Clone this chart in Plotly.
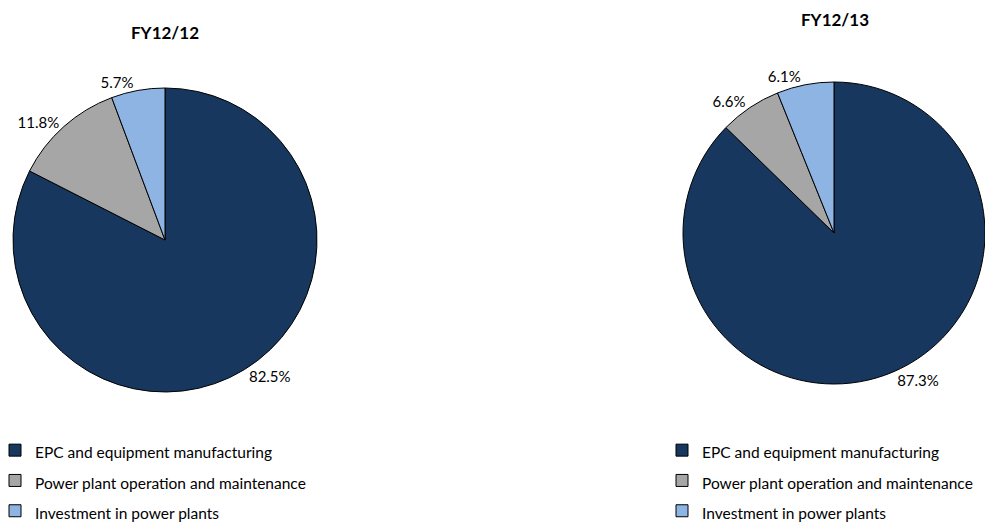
import plotly.graph_objects as go

W, H = 985, 525

categories = ["EPC and equipment manufacturing",
              "Power plant operation and maintenance",
              "Investment in power plants"]
fy1212_values = [82.5, 11.8, 5.7]
fy1213_values = [87.3, 6.6, 6.1]
titles = ["FY12/12", "FY12/13"]
colors = ["#17375E", "#A6A6A6", "#8DB4E2"]

FONT = "Lato, Carlito, Calibri, sans-serif"

def px_dom_x(a, b):
    return [a / W, b / W]

def px_dom_y(top, bottom):
    return [(H - bottom) / H, (H - top) / H]

# distinct (but identically rendered) label markup so each pie keeps its own legend
labels_left = [f'<span style="font-size:15.5px">{c}</span>' for c in categories]
labels_right = [f'<span style="font-size:15.5px;">{c}</span>' for c in categories]

fig = go.Figure()
fig.add_trace(go.Pie(
    labels=labels_left, values=fy1212_values, sort=False,
    direction="clockwise", rotation=0,
    marker=dict(colors=colors, line=dict(color="black", width=1)),
    textinfo="text", text=[f"{v:.1f}%" for v in fy1212_values],
    textposition="outside", textfont=dict(size=15, color="black", family=FONT),
    domain=dict(x=px_dom_x(13, 317), y=px_dom_y(88, 392)),
    legend="legend", hoverinfo="label+percent",
))
fig.add_trace(go.Pie(
    labels=labels_right, values=fy1213_values, sort=False,
    direction="clockwise", rotation=0,
    marker=dict(colors=colors, line=dict(color="black", width=1)),
    textinfo="text", text=[f"{v:.1f}%" for v in fy1213_values],
    textposition="outside", textfont=dict(size=15, color="black", family=FONT),
    domain=dict(x=px_dom_x(683, 985), y=px_dom_y(80, 386)),
    legend="legend2", hoverinfo="label+percent",
))

legend_common = dict(font=dict(size=21, color="black", family=FONT),
                     bgcolor="rgba(0,0,0,0)", xanchor="left", yanchor="top",
                     itemclick=False, itemdoubleclick=False, tracegroupgap=0)

fig.update_layout(
    width=W, height=H,
    margin=dict(l=0, r=0, t=0, b=0, autoexpand=False),
    paper_bgcolor="white", plot_bgcolor="white",
    font=dict(family=FONT, color="black"),
    legend=dict(x=-5 / W, y=1 - 430 / H, **legend_common),
    legend2=dict(x=662 / W, y=1 - 430 / H, **legend_common),
    annotations=[
        dict(text=f"<b>{titles[0]}</b>", x=165 / W, y=1 - 32 / H, xref="paper", yref="paper",
             showarrow=False, xanchor="center", yanchor="middle",
             font=dict(size=17, family=FONT, color="black")),
        dict(text=f"<b>{titles[1]}</b>", x=835 / W, y=1 - 20 / H, xref="paper", yref="paper",
             showarrow=False, xanchor="center", yanchor="middle",
             font=dict(size=17, family=FONT, color="black")),
    ],
)

fig.write_html("out.html")
